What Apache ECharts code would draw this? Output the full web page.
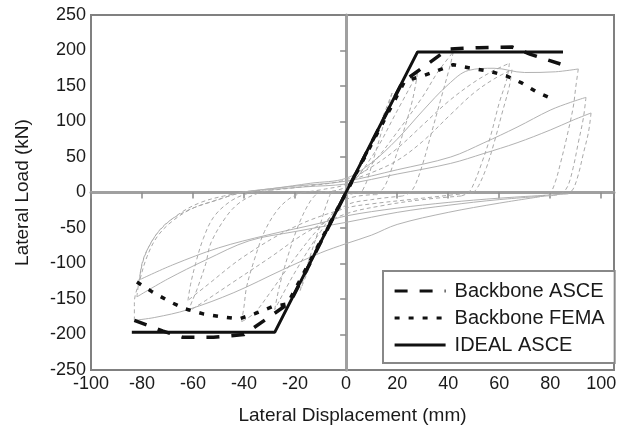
<!DOCTYPE html>
<html>
<head>
<meta charset="utf-8">
<script src="https://cdn.jsdelivr.net/npm/echarts@6/dist/echarts.min.js"></script>
<style>html,body{margin:0;padding:0;background:#fff}#c{width:624px;height:430px}</style>
</head>
<body>
<div id="c"></div>
<script>
// ---- tick labels ----
const xTickLabels = [-100, -80, -60, -40, -20, 0, 20, 40, 60, 80, 100];
const yTickLabels = [-250, -200, -150, -100, -50, 0, 50, 100, 150, 200, 250];

// ---- backbone / ideal curves [displacement mm, load kN] ----
const idealAsce = [[-84,-197],[-28,-197],[28,198],[85,198]];
const backboneAsce = [[-83,-180],[-72,-195],[-64,-204],[-52,-204],[-40,-200],[-30,-175],[-22,-155],[0,0],[22,155],[30,176],[40,202],[52,204],[65,205],[72,195],[84,181]];
const backboneFema = [[-82,-126],[-76,-140],[-69,-154],[-63,-164],[-56,-171],[-49,-175],[-42,-178],[-36,-171],[-29,-161],[-23,-157],[0,0],[23,157],[29,163],[36,172],[42,180],[49,175],[56,171],[63,164],[69,154],[75,141],[82,130]];

// ---- hysteresis branches (gray) ----
const loadPosSolid = [
  [[-42,0],[-28,6],[-14,13],[0,20],[10,42],[20,75],[30,115],[40,152],[48,172],[58,175],[70,169],[82,170],[91,174]],
  [[-38,2],[-20,9],[0,16],[20,32],[41,50],[54,70],[67,92],[80,116],[88,127],[94,134]],
  [[-33,3],[-16,8],[0,12],[20,26],[41,41],[54,55],[67,70],[80,88],[89,102],[96,112]]
];
const loadPosDashed = [
  [[-30,3],[-15,9],[0,18],[10,36],[20,62],[30,95],[40,128],[50,155],[58,172],[64,182]],
  [[-17,0],[-8,5],[0,12],[10,40],[20,85],[30,135],[36,170],[42,198]],
  [[-11,0],[0,8],[10,50],[20,115],[28,168]],
  [[-6,0],[0,5],[10,70],[18,140]],
  [[0,15],[10,28],[20,45],[30,72],[41,110],[50,140],[58,160],[65,173]]
];
const unloadPos = [
  [[91,174],[90,148],[89,120],[86.5,78],[84,41],[82,15],[80,0],[76,-6]],
  [[94,134],[93,105],[91,70],[89,35],[87,10],[85,0],[82,-4]],
  [[96,112],[95,85],[93,55],[91,25],[89,5],[87,-2]],
  [[64,182],[63,160],[60,126],[56.5,78],[53,40],[50,12],[48,0],[45,-5]],
  [[42,198],[41,182],[37,130],[33,78],[30,40],[27,10],[25,0],[22,-5]],
  [[28,168],[26,130],[22,80],[18,35],[15,8],[12,-3]],
  [[18,140],[15,100],[11,50],[8,15],[6,0]],
  [[65,173],[64,150],[61,110],[58,70],[55,35],[52,10],[50,0]]
];
const loadNegSolid = [
  [[76,-6],[60,-15],[40,-28],[20,-45],[10,-60],[0,-72],[-10,-85],[-25,-109],[-44,-141],[-62,-165],[-75,-176],[-83,-180]],
  [[82,-4],[60,-10],[40,-18],[20,-28],[0,-42],[-20,-55],[-38,-68],[-55,-95],[-70,-122],[-82,-147]],
  [[87,-2],[60,-8],[40,-14],[20,-22],[0,-33],[-10,-43],[-31,-60],[-50,-78],[-68,-102],[-81,-123]]
];
const loadNegDashed = [
  [[45,-5],[30,-10],[15,-18],[0,-30],[-15,-55],[-30,-92],[-45,-128],[-55,-152],[-62,-168]],
  [[22,-5],[10,-10],[0,-18],[-10,-48],[-20,-92],[-30,-142],[-36,-170],[-41,-182]],
  [[12,-3],[0,-10],[-10,-55],[-20,-112],[-28,-165]],
  [[6,0],[0,-6],[-10,-70],[-18,-138]],
  [[50,0],[30,-8],[10,-16],[0,-22],[-20,-48],[-40,-90],[-55,-132],[-62,-152]]
];
const unloadNeg = [
  [[-83,-180],[-83,-155],[-81,-125],[-78,-90],[-74,-62],[-68,-40],[-60,-22],[-50,-10],[-42,0]],
  [[-82,-147],[-81,-120],[-79,-90],[-75,-62],[-70,-42],[-62,-25],[-52,-12],[-44,-3],[-38,2]],
  [[-81,-123],[-80,-100],[-78,-81],[-73,-53],[-65,-29],[-57,-14],[-48,-5],[-40,0],[-33,3]],
  [[-62,-168],[-60,-150],[-58.5,-137],[-55,-100],[-53,-71],[-47,-34],[-42,-15],[-36,-3],[-30,3]],
  [[-41,-182],[-40,-160],[-39,-133],[-36,-95],[-32,-55],[-27,-25],[-22,-8],[-17,0]],
  [[-28,-165],[-26,-130],[-22,-80],[-18,-40],[-14,-12],[-11,0]],
  [[-18,-138],[-15,-100],[-11,-55],[-8,-20],[-6,0]],
  [[-62,-152],[-61,-130],[-59,-100],[-56,-65],[-52,-35],[-46,-14],[-40,-3],[-34,2]]
];

const FONT = '"Liberation Sans", Arial, Helvetica, sans-serif';
const series = [];
const solidStyle = {color:'#b2b2b2', width:1};
const dashedStyle = {color:'#a9a9a9', width:1, type:[4,3]};
[...loadPosSolid, ...loadNegSolid].forEach(d => series.push({type:'line', data:d, symbol:'none', smooth:0.35, silent:true, lineStyle:solidStyle, z:1}));
[...loadPosDashed, ...loadNegDashed, ...unloadPos, ...unloadNeg].forEach(d => series.push({type:'line', data:d, symbol:'none', smooth:0.35, silent:true, lineStyle:dashedStyle, z:1}));
const hidden = {color:'rgba(0,0,0,0)', opacity:0};
series.push({name:'Backbone ASCE', type:'line', data:backboneAsce, symbol:'none', itemStyle:hidden, lineStyle:{color:'#111', width:3.5, type:[13,12]}, z:5});
series.push({name:'Backbone FEMA', type:'line', data:backboneFema, symbol:'none', itemStyle:hidden, lineStyle:{color:'#111', width:3.5, type:[5,9]}, z:5});
series.push({name:'IDEAL ASCE', type:'line', data:idealAsce, symbol:'none', itemStyle:hidden, lineStyle:{color:'#111', width:3}, z:4});

const xFmt = v => xTickLabels.includes(v) ? String(v) : '';
const yFmt = v => yTickLabels.includes(v) ? String(v) : '';

const option = {
  animation:false,
  backgroundColor:'#fff',
  grid:{left:91, right:10, top:15, bottom:60, show:true, borderColor:'#808080', borderWidth:2, backgroundColor:'transparent'},
  legend:{
    data:['Backbone ASCE','Backbone FEMA','IDEAL ASCE'],
    orient:'vertical', left:383, top:271,
    itemWidth:51, itemHeight:14, itemGap:7,
    padding:[10,10,8,10],
    borderColor:'#888', borderWidth:2, backgroundColor:'#fff',
    itemStyle:{opacity:0, color:'rgba(0,0,0,0)', borderWidth:0},
    lineStyle:{width:3.2},
    textStyle:{fontFamily:FONT, fontSize:20, color:'#1a1a1a', padding:[0,0,0,4]},
    selectedMode:false
  },
  xAxis:[
    {type:'value', min:-100, max:105, interval:20, position:'bottom',
     axisLine:{show:false, onZero:false}, axisTick:{show:false}, splitLine:{show:false},
     axisLabel:{formatter:xFmt, fontFamily:FONT, fontSize:18, color:'#1a1a1a', margin:5},
     name:'Lateral Displacement (mm)', nameLocation:'middle', nameGap:36,
     nameTextStyle:{fontFamily:FONT, fontSize:19, color:'#1a1a1a'}},
    {type:'value', min:-100, max:105, interval:20, position:'top',
     axisLine:{show:true, onZero:true, lineStyle:{color:'#a0a0a0', width:3}},
     axisTick:{show:true, inside:true, length:6, lineStyle:{color:'#8a8a8a', width:1.5}},
     axisLabel:{show:false}, splitLine:{show:false}}
  ],
  yAxis:[
    {type:'value', min:-250, max:250, interval:50, position:'left',
     axisLine:{show:false, onZero:false}, axisTick:{show:false}, splitLine:{show:false},
     axisLabel:{formatter:yFmt, fontFamily:FONT, fontSize:18, color:'#1a1a1a', margin:5},
     name:'Lateral Load (kN)', nameLocation:'middle', nameGap:59,
     nameTextStyle:{fontFamily:FONT, fontSize:19, color:'#1a1a1a'}},
    {type:'value', min:-250, max:250, interval:50, position:'right',
     axisLine:{show:true, onZero:true, lineStyle:{color:'#a0a0a0', width:3}},
     axisTick:{show:true, inside:true, length:6, lineStyle:{color:'#8a8a8a', width:1.5}},
     axisLabel:{show:false}, splitLine:{show:false}}
  ],
  series:series
};
const chart = echarts.init(document.getElementById('c'), null, {renderer:'canvas'});
chart.setOption(option);
</script>
</body>
</html>
